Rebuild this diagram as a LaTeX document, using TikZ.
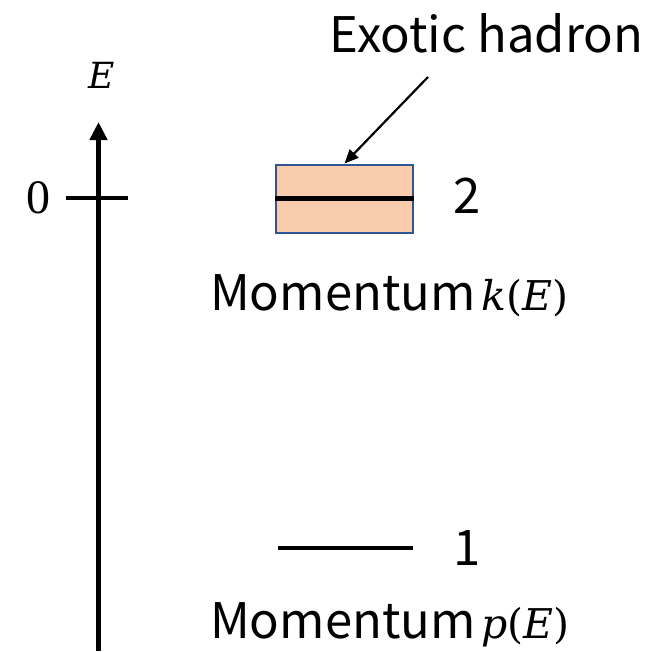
\documentclass[tikz,border=0pt]{standalone}
\usepackage{fontspec}
\newfontfamily\jpfont{Noto Sans CJK JP}
\newfontfamily\mserif{DejaVu Serif}
\newfontfamily\dserif{Liberation Serif}
\usetikzlibrary{arrows.meta}
\definecolor{peach}{HTML}{F8CBAD}
\definecolor{boxblue}{HTML}{2F5597}
\newcommand{\mvar}[1]{{\itshape #1\/}}
\tikzset{
  lbl/.style={inner sep=0, font=\jpfont\fontsize{49}{58}\selectfont},
  mathlbl/.style={inner sep=0},
  level/.style={line width=4.2pt},
}
\begin{document}
\begin{tikzpicture}[x=1pt,y=-1pt]
\useasboundingbox (0,0) rectangle (671,651);
% energy axis
\coordinate (axbot) at (98.5,651);
\coordinate (axtop) at (98.5,122);
\draw[line width=5.5pt, -{Triangle[length=18pt,width=17pt]}] (axbot) -- (axtop);
\node[mathlbl, anchor=base, font=\mserif\fontsize{36}{40}\selectfont] (elab) at (102,88) {\mvar{E}};
% zero tick
\coordinate (tl) at (66,198);
\coordinate (tr) at (128,198);
\draw[line width=4.5pt] (tl) -- (tr);
\node[mathlbl, anchor=base, font=\dserif\fontsize{48}{52}\selectfont] (zero) at (38,213) {0};
% exotic hadron box
\node[draw=boxblue, line width=2pt, fill=peach, minimum width=137pt, minimum height=68pt, inner sep=0] (box) at (344.5,198.5) {};
\draw[level] (box.west) -- (box.east);
\node[lbl, anchor=base] (two) at (467,213) {2};
\node[lbl, anchor=base] (ex) at (486.5,52) {Exotic hadron};
\coordinate (as) at (428,77);
\draw[line width=2.2pt, -{Triangle[length=14pt,width=12pt]}] (as) -- (box.north);
\node[lbl, anchor=base west] (mk) at (210,310) {Momentum\hspace{6pt}{\mserif\fontsize{41}{50}\selectfont\mvar{k}(\mvar{E})}};
% level 1
\coordinate (l1a) at (278,548);
\coordinate (l1b) at (413,548);
\draw[line width=3.5pt] (l1a) -- (l1b);
\node[lbl, anchor=base] (one) at (467,565) {1};
\node[lbl, anchor=base west] (mp) at (210,638) {Momentum\hspace{6pt}{\mserif\fontsize{41}{50}\selectfont\mvar{p}(\mvar{E})}};
\end{tikzpicture}
\end{document}
